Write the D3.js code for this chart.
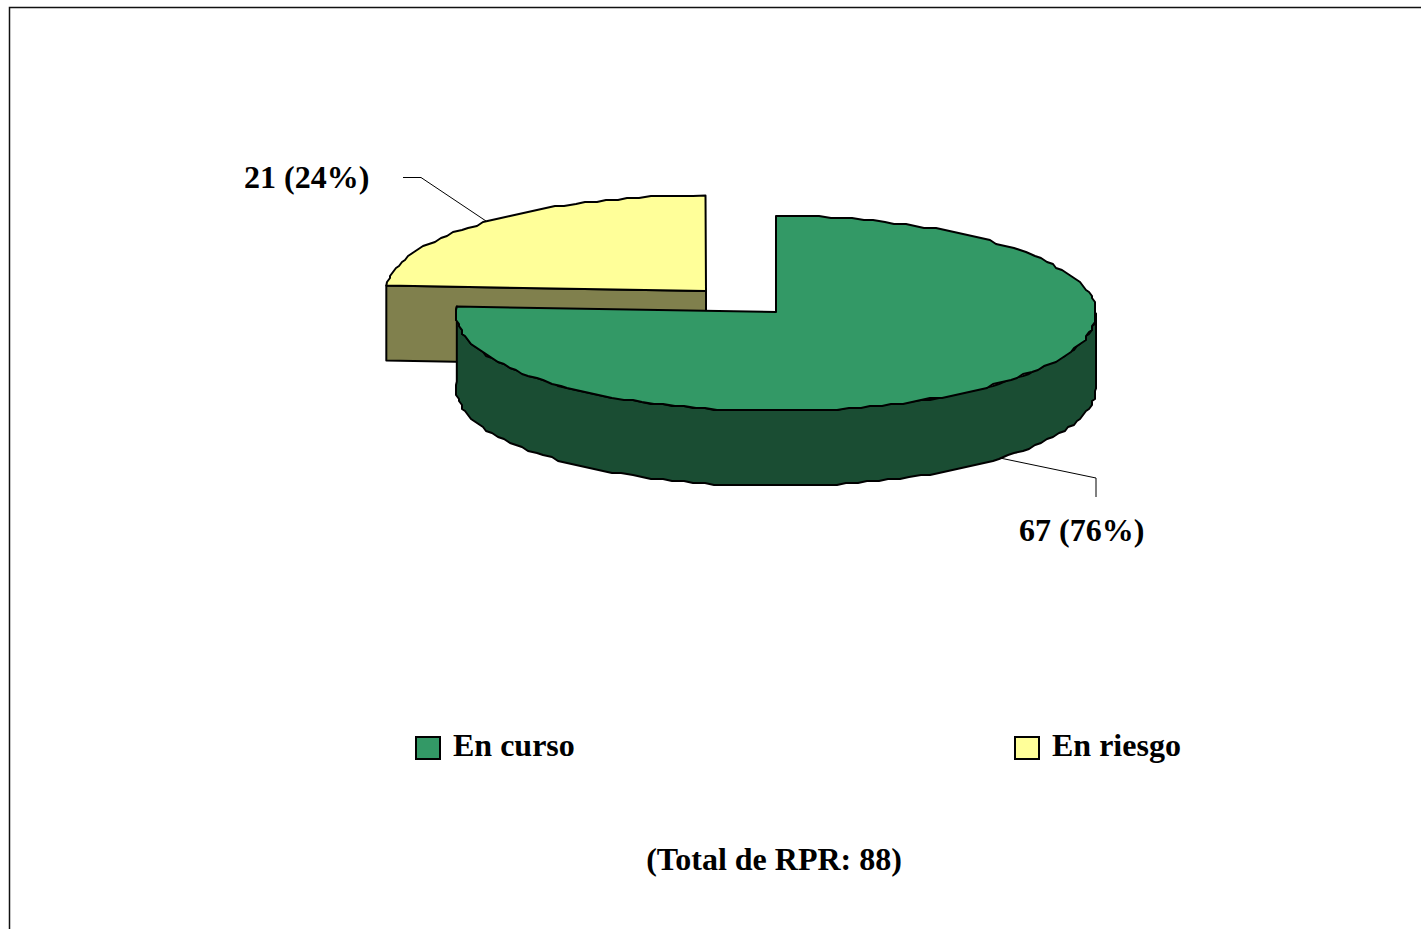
<!DOCTYPE html>
<html>
<head>
<meta charset="utf-8">
<script src="https://cdn.jsdelivr.net/npm/d3@7"></script>
<style>
    html, body { margin: 0; padding: 0; background: #fff; overflow: hidden; }
    text { font-family: "Liberation Serif", "Times New Roman", serif; font-weight: bold; fill: #000; }
</style>
</head>
<body>
<div id="chart"></div>
<script>
const categories = ["En curso", "En riesgo"];
const values = [67, 21];
const percents = [76, 24];
const totalLabel = "Total de RPR";

const width = 1421, height = 929;
const fills = ["#339966", "#FFFF99"];
const sideFills = ["#1A4D33", "#80804D"];

const svg = d3.select("#chart").append("svg")
    .attr("width", width)
    .attr("height", height)
    .style("display", "block");

// Frame, right and bottom edges fall outside the picture
svg.append("path")
    .attr("d", `M9.5,${height}V7.5H${width}`)
    .attr("fill", "none")
    .attr("stroke", "#111")
    .attr("stroke-width", 1.5);

// Each slice is pulled away from the other, so each has its own centre
const slices = [
    { pivot: [776, 312], cx: 776, cy: 313.5, rx: 320, ry: 97.5 },
    { pivot: [706, 291], cx: 705.5, cy: 292.5, rx: 320, ry: 97 }
];
const depth = 75;

const arcs = d3.pie().sort(null).value(d => d)(values);

const line = d3.line();
const snap = (v, s) => Math.round(v / s) * s;

// Points along the rim, snapped to a coarse grid for the stepped edge of the original
function rim(s, a0, a1, dy = 0) {
    const x = d3.scaleLinear().domain([-1, 1]).range([s.cx - s.rx, s.cx + s.rx]);
    const y = d3.scaleLinear().domain([-1, 1]).range([s.cy + s.ry, s.cy - s.ry]);
    const n = Math.ceil(Math.abs(a1 - a0) / (Math.PI / 90));
    const pts = d3.range(n + 1).map(i => {
        const a = a0 + (a1 - a0) * i / n;
        const px = x(Math.sin(a)), py = y(Math.cos(a));
        const atEnd = i === 0 || i === n;
        const sx = Math.max(s.cx - s.rx, Math.min(s.cx + s.rx, snap(px, 3)));
        const sy = Math.max(s.cy - s.ry, Math.min(s.cy + s.ry, snap(py, 2)));
        return [atEnd ? px : sx, (atEnd ? py : sy) + dy];
    });
    return pts;
}

const drawOrder = [1, 0];
drawOrder.forEach(i => {
    const s = slices[i], a = arcs[i];
    const g = svg.append("g")
        .attr("stroke", "#000")
        .attr("stroke-width", 2)
        .attr("stroke-linejoin", "round");

    if (i === 1) {
        // Cut face of the yellow slice
        const edge = rim(s, a.startAngle, a.startAngle + 0.001)[0];
        g.append("path")
            .attr("d", line([edge, s.pivot, [s.pivot[0], s.pivot[1] + depth], [edge[0], edge[1] + depth]]) + "Z")
            .attr("fill", sideFills[i]);
    } else {
        // Outer wall of the green slice
        const front = rim(s, Math.PI / 2, a.endAngle);
        const back = rim(s, a.endAngle, Math.PI / 2, depth);
        g.append("path")
            .attr("d", line(front.concat(back)) + "Z")
            .attr("fill", sideFills[i]);
    }

    g.append("path")
        .attr("d", line([s.pivot].concat(rim(s, a.startAngle, a.endAngle))) + "Z")
        .attr("fill", fills[i]);
});

// Leader lines
const leaders = [
    [[1096, 497], [1096, 478], [1000, 458]],
    [[403, 177.5], [421, 177.5], [486, 221]]
];
svg.selectAll(".leader").data(leaders).join("path")
    .attr("class", "leader")
    .attr("d", d => line(d))
    .attr("fill", "none")
    .attr("stroke", "#000")
    .attr("stroke-width", 1);

// Value labels
const labelPos = [[1019, 541], [244, 188]];
svg.selectAll(".value-label").data(values).join("text")
    .attr("class", "value-label")
    .attr("x", (d, i) => labelPos[i][0])
    .attr("y", (d, i) => labelPos[i][1])
    .style("font-size", "32px")
    .text((d, i) => `${d} (${percents[i]}%)`);

// Legend
const legendX = [416, 1015];
const legend = svg.selectAll(".legend").data(categories).join("g")
    .attr("class", "legend")
    .attr("transform", (d, i) => `translate(${legendX[i]},737)`);
legend.append("rect")
    .attr("width", 24)
    .attr("height", 22)
    .attr("fill", (d, i) => fills[i])
    .attr("stroke", "#000")
    .attr("stroke-width", 2);
legend.append("text")
    .attr("x", 37)
    .attr("y", 19)
    .style("font-size", "32px")
    .text(d => d);

// Total
svg.append("text")
    .attr("x", 774)
    .attr("y", 870)
    .attr("text-anchor", "middle")
    .style("font-size", "32px")
    .text(`(${totalLabel}: ${d3.sum(values)})`);
</script>
</body>
</html>
